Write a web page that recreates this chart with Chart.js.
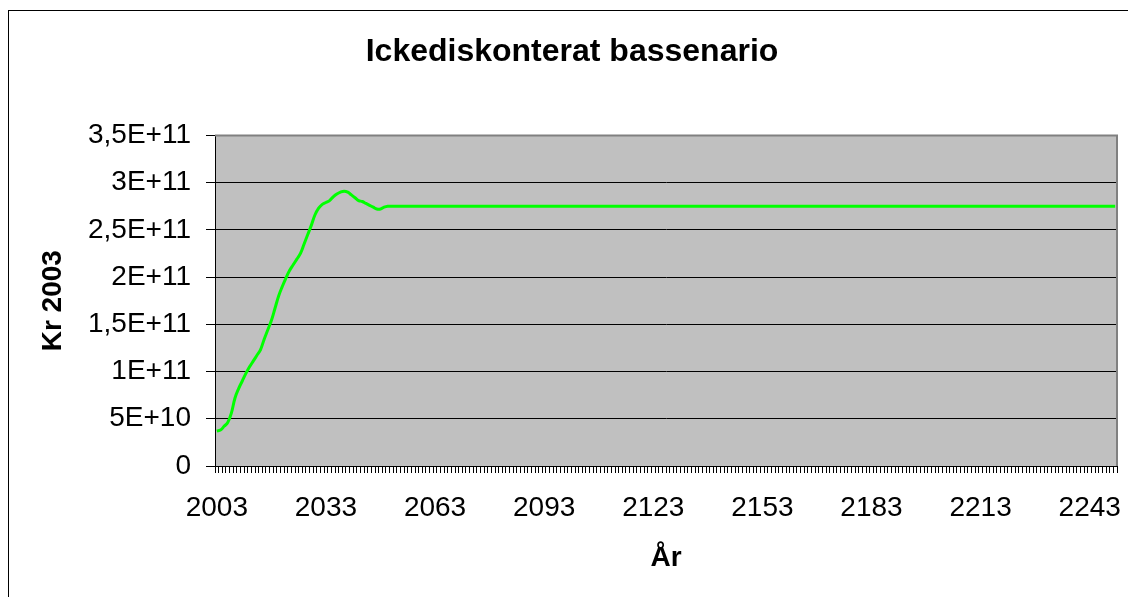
<!DOCTYPE html>
<html><head><meta charset="utf-8">
<script src="https://cdn.jsdelivr.net/npm/chart.js@4.4.0/dist/chart.umd.min.js"></script>
<style>
html,body{margin:0;padding:0;background:#fff;overflow:hidden;width:1128px;height:597px}
#lineTop{position:absolute;left:8px;top:10px;width:1200px;height:1px;background:#000;}
#lineLeft{position:absolute;left:8px;top:10px;width:1px;height:700px;background:#000;}
#wrap{position:absolute;left:9px;top:11px;width:1128px;height:600px;}
canvas{display:block}
</style></head><body>
<div id="lineTop"></div><div id="lineLeft"></div>
<div id="wrap"><canvas id="c" width="1128" height="600"></canvas></div>
<script>
const years = [
2003,2004,2005,2006,2007,2008,2009,2010,2011,2012,
2013,2014,2015,2016,2017,2018,2019,2020,2021,2022,
2023,2024,2025,2026,2027,2028,2029,2030,2031,2032,
2033,2034,2035,2036,2037,2038,2039,2040,2041,2042,
2043,2044,2045,2046,2047,2048,2049,2050,2051,2052,
2053,2054,2055,2056,2057,2058,2059,2060,2061,2062,
2063,2064,2065,2066,2067,2068,2069,2070,2071,2072,
2073,2074,2075,2076,2077,2078,2079,2080,2081,2082,
2083,2084,2085,2086,2087,2088,2089,2090,2091,2092,
2093,2094,2095,2096,2097,2098,2099,2100,2101,2102,
2103,2104,2105,2106,2107,2108,2109,2110,2111,2112,
2113,2114,2115,2116,2117,2118,2119,2120,2121,2122,
2123,2124,2125,2126,2127,2128,2129,2130,2131,2132,
2133,2134,2135,2136,2137,2138,2139,2140,2141,2142,
2143,2144,2145,2146,2147,2148,2149,2150,2151,2152,
2153,2154,2155,2156,2157,2158,2159,2160,2161,2162,
2163,2164,2165,2166,2167,2168,2169,2170,2171,2172,
2173,2174,2175,2176,2177,2178,2179,2180,2181,2182,
2183,2184,2185,2186,2187,2188,2189,2190,2191,2192,
2193,2194,2195,2196,2197,2198,2199,2200,2201,2202,
2203,2204,2205,2206,2207,2208,2209,2210,2211,2212,
2213,2214,2215,2216,2217,2218,2219,2220,2221,2222,
2223,2224,2225,2226,2227,2228,2229,2230,2231,2232,
2233,2234,2235,2236,2237,2238,2239,2240,2241,2242,
2243,2244,2245,2246,2247,2248,2249,2250
];
const values = [
37e9,38e9,42e9,46e9,56e9,72e9,82e9,90e9,98e9,105e9,
111e9,117e9,123e9,134e9,144e9,154e9,167e9,180e9,190e9,199e9,
207e9,213e9,219e9,225e9,235e9,245e9,255e9,266e9,273e9,277e9,
279e9,281e9,285e9,288e9,290e9,291e9,290e9,287e9,284e9,281e9,
280e9,278e9,276e9,274e9,272e9,272e9,274e9,275e9,
275e9,275e9,275e9,275e9,275e9,275e9,275e9,275e9,275e9,275e9,
275e9,275e9,275e9,275e9,275e9,275e9,275e9,275e9,275e9,275e9,
275e9,275e9,275e9,275e9,275e9,275e9,275e9,275e9,275e9,275e9,
275e9,275e9,275e9,275e9,275e9,275e9,275e9,275e9,275e9,275e9,
275e9,275e9,275e9,275e9,275e9,275e9,275e9,275e9,275e9,275e9,
275e9,275e9,275e9,275e9,275e9,275e9,275e9,275e9,275e9,275e9,
275e9,275e9,275e9,275e9,275e9,275e9,275e9,275e9,275e9,275e9,
275e9,275e9,275e9,275e9,275e9,275e9,275e9,275e9,275e9,275e9,
275e9,275e9,275e9,275e9,275e9,275e9,275e9,275e9,275e9,275e9,
275e9,275e9,275e9,275e9,275e9,275e9,275e9,275e9,275e9,275e9,
275e9,275e9,275e9,275e9,275e9,275e9,275e9,275e9,275e9,275e9,
275e9,275e9,275e9,275e9,275e9,275e9,275e9,275e9,275e9,275e9,
275e9,275e9,275e9,275e9,275e9,275e9,275e9,275e9,275e9,275e9,
275e9,275e9,275e9,275e9,275e9,275e9,275e9,275e9,275e9,275e9,
275e9,275e9,275e9,275e9,275e9,275e9,275e9,275e9,275e9,275e9,
275e9,275e9,275e9,275e9,275e9,275e9,275e9,275e9,275e9,275e9,
275e9,275e9,275e9,275e9,275e9,275e9,275e9,275e9,275e9,275e9,
275e9,275e9,275e9,275e9,275e9,275e9,275e9,275e9,275e9,275e9,
275e9,275e9,275e9,275e9,275e9,275e9,275e9,275e9,275e9,275e9,
275e9,275e9,275e9,275e9,275e9,275e9,275e9,275e9,275e9,275e9
];
const xTickLabels = [2003,2033,2063,2093,2123,2153,2183,2213,2243];
const yTickLabels = ['0','5E+10','1E+11','1,5E+11','2E+11','2,5E+11','3E+11','3,5E+11'];
const chartTitle = 'Ickediskonterat bassenario';
const yTitle = 'Kr 2003';
const xTitle = 'År';

const FONT = "'Liberation Sans', Arial, sans-serif";

const plotArea = {
  id: 'plotArea',
  beforeDraw(chart) {
    const {ctx, chartArea: a} = chart;
    ctx.save();
    ctx.fillStyle = '#C0C0C0';
    ctx.fillRect(a.left, a.top, a.right - a.left, a.bottom - a.top);
    ctx.restore();
  },
  afterDatasetsDraw(chart) {
    const {ctx, chartArea: a} = chart;
    ctx.save();
    ctx.strokeStyle = '#808080';
    ctx.lineWidth = 2;
    ctx.beginPath();
    ctx.moveTo(a.left, a.top);
    ctx.lineTo(a.right, a.top);
    ctx.lineTo(a.right, a.bottom);
    ctx.stroke();
    ctx.restore();
  }
};

Chart.defaults.color = '#000';
Chart.defaults.font.family = FONT;

new Chart(document.getElementById('c'), {
  type: 'line',
  data: {
    labels: years,
    datasets: [{
      data: values,
      borderColor: '#00FF00',
      borderWidth: 3,
      pointRadius: 0,
      tension: 0.4,
      fill: false
    }]
  },
  options: {
    responsive: false,
    devicePixelRatio: 1,
    animation: false,
    layout: { padding: { left: 18, right: 20, top: 0, bottom: 0 } },
    plugins: {
      legend: { display: false },
      tooltip: { enabled: false },
      title: {
        display: true,
        text: chartTitle,
        color: '#000',
        font: { family: FONT, size: 32, weight: 'bold' },
        padding: { top: 22, bottom: 64 }
      }
    },
    scales: {
      x: {
        type: 'category',
        offset: true,
        afterFit(scale) { scale.height = 145; },
        grid: {
          display: true,
          drawOnChartArea: false,
          drawTicks: true,
          tickLength: 7,
          color: '#000',
          lineWidth: 1,
          offset: true
        },
        border: { display: true, color: '#000', width: 1 },
        ticks: {
          autoSkip: false,
          maxRotation: 0,
          minRotation: 0,
          padding: 18,
          color: '#000',
          font: { family: FONT, size: 28 },
          callback(val, index) {
            const y = years[index];
            return xTickLabels.includes(y) ? String(y) : '';
          }
        },
        title: {
          display: true,
          text: xTitle,
          color: '#000',
          font: { family: FONT, size: 28, weight: 'bold' },
          padding: { top: 0, bottom: 36 }
        }
      },
      y: {
        min: 0,
        max: 3.5e11,
        afterFit(scale) { scale.width = 188; },
        grid: {
          color: '#000',
          lineWidth: 1,
          tickLength: 9,
          drawTicks: true
        },
        border: { display: true, color: '#000', width: 1 },
        ticks: {
          stepSize: 5e10,
          padding: 15,
          color: '#000',
          font: { family: FONT, size: 28 },
          callback(val, index) { return yTickLabels[index]; }
        },
        title: {
          display: true,
          text: yTitle,
          color: '#000',
          font: { family: FONT, size: 28, weight: 'bold' },
          padding: { top: 9, bottom: 0 }
        }
      }
    }
  },
  plugins: [plotArea]
});
</script>
</body></html>
